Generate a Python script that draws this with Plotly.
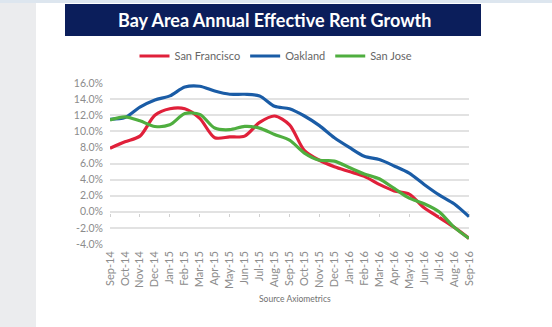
import plotly.graph_objects as go

months = ["Sep-14", "Oct-14", "Nov-14", "Dec-14", "Jan-15", "Feb-15", "Mar-15", "Apr-15",
          "May-15", "Jun-15", "Jul-15", "Aug-15", "Sep-15", "Oct-15", "Nov-15", "Dec-15",
          "Jan-16", "Feb-16", "Mar-16", "Apr-16", "May-16", "Jun-16", "Jul-16", "Aug-16", "Sep-16"]

san_francisco = [7.9, 8.7, 9.4, 12.0, 12.8, 12.8, 11.6, 9.2, 9.3, 9.4, 11.1, 11.9, 10.8,
                 7.6, 6.4, 5.6, 5.0, 4.4, 3.4, 2.6, 2.2, 0.5, -0.7, -1.9, -3.3]
oakland = [11.5, 11.7, 13.0, 13.9, 14.4, 15.5, 15.6, 15.0, 14.6, 14.6, 14.4, 13.1, 12.8,
           11.9, 10.7, 9.2, 8.0, 6.9, 6.5, 5.7, 4.8, 3.4, 2.1, 1.0, -0.6]
san_jose = [11.4, 11.8, 11.3, 10.6, 10.8, 12.2, 12.1, 10.4, 10.2, 10.6, 10.4, 9.6, 8.9,
            7.3, 6.4, 6.3, 5.5, 4.7, 4.1, 2.9, 1.7, 1.0, 0.0, -1.9, -3.3]

y_ticks = [-4, -2, 0, 2, 4, 6, 8, 10, 12, 14, 16]
y_labels = [f"{v:.1f}%" for v in y_ticks]

title_text = "Bay Area Annual Effective Rent Growth"
source_text = "Source Axiometrics"

FONT = "Lato, 'Open Sans', sans-serif"

fig = go.Figure()
series = [("San Francisco", san_francisco, "#e0203a"),
          ("Oakland", oakland, "#1a5ca6"),
          ("San Jose", san_jose, "#4fae3f")]
for name, vals, col in series:
    fig.add_trace(go.Scatter(x=months, y=vals, name=name, mode="lines",
                             line=dict(color=col, width=3.2, shape="spline", smoothing=0.8)))

# helper to convert pixel to paper coords
L, R, T, B = 110, 83, 83, 83
W, H = 552, 327
pw, ph = W - L - R, H - T - B
def px(x):
    return (x - L) / pw
def py(y):
    return (H - B - y) / ph

shapes = [
    dict(type="rect", xref="paper", yref="paper", x0=px(0), x1=px(36), y0=py(H), y1=py(0),
         fillcolor="#ebecee", line_width=0, layer="below"),
    dict(type="rect", xref="paper", yref="paper", x0=px(0), x1=px(W), y0=py(3), y1=py(0),
         fillcolor="#dde6ef", line_width=0, layer="below"),
    dict(type="rect", xref="paper", yref="paper", x0=px(65), x1=px(481), y0=py(36), y1=py(4),
         fillcolor="#0b1e5b", line_width=0, layer="below"),
]

fig.update_layout(
    width=W, height=H,
    margin=dict(l=L, r=R, t=T, b=B),
    paper_bgcolor="white", plot_bgcolor="white",
    font=dict(family=FONT, color="#8c8c8c"),
    shapes=shapes,
    showlegend=True,
    legend=dict(orientation="h", x=px(276), xanchor="center", y=py(56), yanchor="middle",
                font=dict(size=11, color="#666666", family=FONT),
                itemwidth=30, tracegroupgap=0, bgcolor="rgba(0,0,0,0)"),
    annotations=[
        dict(text=f"<b>{title_text}</b>", xref="paper", yref="paper", x=px(274), y=py(20),
             xanchor="center", yanchor="middle", showarrow=False,
             font=dict(size=18, color="white", family=FONT)),
        dict(text=source_text, xref="paper", yref="paper", x=px(295), y=py(299),
             xanchor="center", yanchor="middle", showarrow=False,
             font=dict(size=8.5, color="#707070", family=FONT)),
    ],
    xaxis=dict(type="category", categoryarray=months, range=[0, 24], showgrid=False,
               showline=False, zeroline=False, tickangle=-90, ticks="",
               tickfont=dict(size=11, color="#8c8c8c"), ticklabelstandoff=4),
    xaxis2=dict(type="category", matches="x", overlaying="x", anchor="free",
                position=py(212.7), showgrid=False, showline=False, showticklabels=False,
                ticks="outside", ticklen=3, tickcolor="#d0d0d0", tickwidth=1, side="bottom"),
    yaxis=dict(range=[-4, 16], tickvals=y_ticks, ticktext=y_labels, showgrid=True,
               gridcolor="#e2e2e2", gridwidth=1.5, zeroline=False, showline=False,
               ticks="", tickfont=dict(size=10.5, color="#8c8c8c"), ticklabelstandoff=6),
)
fig.add_trace(go.Scatter(x=months, y=[None] * len(months), xaxis="x2", showlegend=False,
                         hoverinfo="skip", mode="lines"))

fig.write_html("out.html")
